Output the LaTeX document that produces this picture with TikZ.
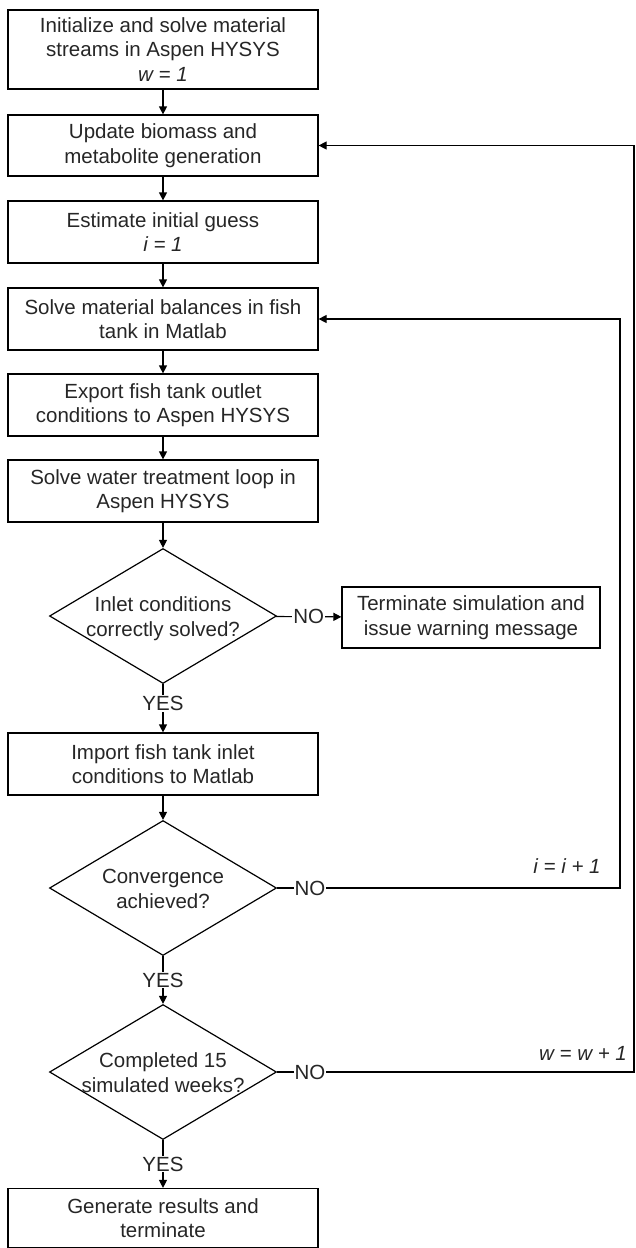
\documentclass[tikz,border=0pt]{standalone}
\usepackage{fontspec}
\setmainfont{Liberation Sans}
\usetikzlibrary{arrows.meta,shapes.geometric}
\begin{document}
\begin{tikzpicture}[x=1pt,y=-1pt,
  font=\fontsize{20.5}{24.5}\selectfont,
  box/.style={draw, line width=1.2pt, minimum width=310pt, minimum height=62pt, align=center, inner sep=0pt, text=black!85},
  dia/.style={draw, diamond, line width=1.2pt, minimum width=227pt, minimum height=135pt, inner sep=0pt, text=black!85},
  arr/.style={line width=1.2pt, -{Triangle[length=8pt,width=8pt]}},
  lab/.style={fill=white, inner sep=1pt, text=black!85}]
\useasboundingbox (0,0) rectangle (635,1248);
\newcommand{\dtext}[2]{\raisebox{-17pt}{\makebox[0pt]{\smash{\begin{tabular}{@{}c@{}}#1\\#2\end{tabular}}}}}
\node[box, minimum height=79pt] (b1) at (163,49.5) {Initialize and solve material\\streams in Aspen HYSYS\\\textit{w = 1}};
\node[box, minimum height=61pt] (b2) at (163,145.5) {Update biomass and\\metabolite generation};
\node[box] (b3) at (163,232) {Estimate initial guess\\\textit{i = 1}};
\node[box] (b4) at (163,319) {Solve material balances in fish\\tank in Matlab};
\node[box] (b5) at (163,405) {Export fish tank outlet\\conditions to Aspen HYSYS};
\node[box] (b6) at (163,491) {Solve water treatment loop in\\Aspen HYSYS};
\node[dia] (d1) at (163,616) {\dtext{Inlet conditions}{correctly solved?}};
\node[box, minimum width=258pt, minimum height=61pt] (term) at (471,617.5) {Terminate simulation and\\issue warning message};
\node[box] (b7) at (163,764) {Import fish tank inlet\\conditions to Matlab};
\node[dia] (d2) at (163,888) {\dtext{Convergence}{achieved?}};
\node[dia] (d3) at (163,1072) {\dtext{Completed 15}{simulated weeks?}};
\node[box, minimum height=59pt] (b8) at (163,1218) {Generate results and\\terminate};
\coordinate (cI) at (620,888);
\coordinate (cW) at (634,1072);
\node[lab, fill=none] (li) at (567,866) {\textit{i = i + 1}};
\node[lab, fill=none] (lw) at (583,1053) {\textit{w = w + 1}};
\draw[arr] (b1) -- (b2);
\draw[arr] (b2) -- (b3);
\draw[arr] (b3) -- (b4);
\draw[arr] (b4) -- (b5);
\draw[arr] (b5) -- (b6);
\draw[arr] (b6) -- (d1);
\draw[arr] (d1) -- node[lab]{NO} (term);
\draw[arr] (d1) -- node[lab, pos=0.4]{YES} (b7);
\draw[arr] (b7) -- (d2);
\draw[arr] (d2.east) -- node[lab, pos=0.096]{NO} (cI) |- (b4.east);
\draw[arr] (d2) -- node[lab, pos=0.5]{YES} (d3);
\draw[arr] (d3.east) -- node[lab, pos=0.092]{NO} (cW) |- (b2.east);
\draw[arr] (d3) -- node[lab, pos=0.5]{YES} (b8);
\end{tikzpicture}
\end{document}
